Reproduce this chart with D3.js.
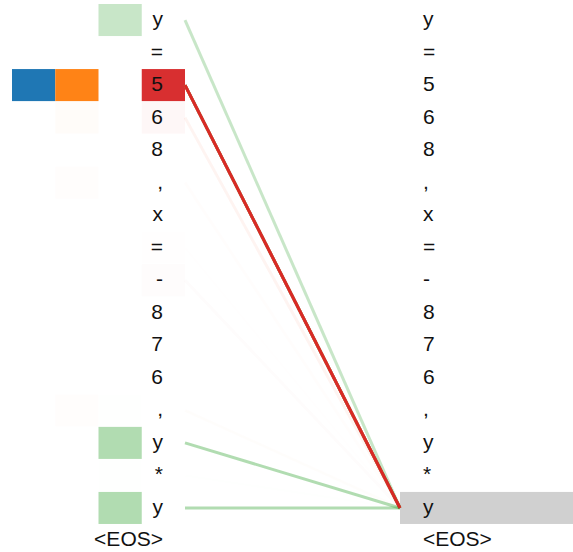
<!DOCTYPE html>
<html>
<head>
<meta charset="utf-8">
<script src="https://cdn.jsdelivr.net/npm/d3@7"></script>
<style>
  html, body { margin: 0; padding: 0; background: #fff; }
  svg { display: block; }
  text { font-family: "Liberation Sans", Arial, sans-serif; font-size: 21px; fill: #111; }
</style>
</head>
<body>
<svg id="chart" width="573" height="552"></svg>
<script>
// Tokens (same on both sides)
const tokens = ["y", "=", "5", "6", "8", ",", "x", "=", "-", "8", "7", "6", ",", "y", "*", "y", "<EOS>"];
// Selected (query) token index on the right
const selectedIndex = 15;
// Head names / colors
const heads = ["head 0", "head 1", "head 2", "head 3"];
// Attention from the selected token to each left token, per head
const attnHead0 = [0, 0, 1.0, 0, 0, 0, 0, 0, 0, 0, 0, 0, 0, 0, 0, 0, 0];
const attnHead1 = [0, 0, 0.97, 0.025, 0, 0.01, 0, 0, 0, 0, 0, 0, 0.01, 0, 0, 0, 0];
const attnHead2 = [0.26, 0, 0, 0, 0, 0, 0, 0, 0, 0, 0, 0, 0.003, 0.37, 0.003, 0.37, 0];
const attnHead3 = [0, 0, 0.96, 0.035, 0, 0, 0, 0.003, 0.015, 0, 0, 0, 0, 0, 0, 0, 0];
const attention = [attnHead0, attnHead1, attnHead2, attnHead3];

const svg = d3.select("#chart");
const color = d3.scaleOrdinal().domain(heads).range(d3.schemeCategory10);

const y = d3.scaleBand().domain(d3.range(tokens.length)).range([4, 4 + tokens.length * 32.5]).paddingInner(0.015);
const headX = d3.scaleBand().domain(heads).range([12, 185]);

const leftTextX = 163;
const rightBoxX = 400;
const rightTextX = 423;
const lineLeftX = 185;

// Head attention boxes on the left
heads.forEach((h, hi) => {
  svg.append("g").selectAll("rect")
    .data(attention[hi])
    .join("rect")
    .attr("x", headX(h))
    .attr("y", (d, i) => y(i))
    .attr("width", headX.bandwidth())
    .attr("height", y.bandwidth())
    .attr("fill", color(h))
    .attr("fill-opacity", d => d);
});

// Selected token highlight on the right
svg.append("rect")
  .attr("x", rightBoxX)
  .attr("y", y(selectedIndex))
  .attr("width", 573 - rightBoxX)
  .attr("height", y.bandwidth())
  .attr("fill", "#d0d0d0");

// Attention lines
const cy = i => y(i) + y.bandwidth() / 2;
heads.forEach((h, hi) => {
  svg.append("g").selectAll("line")
    .data(attention[hi])
    .join("line")
    .attr("x1", lineLeftX)
    .attr("y1", (d, i) => cy(i))
    .attr("x2", rightBoxX)
    .attr("y2", cy(selectedIndex))
    .attr("stroke", color(h))
    .attr("stroke-width", 3)
    .attr("stroke-opacity", d => d);
});

// Left tokens
svg.append("g").selectAll("text")
  .data(tokens)
  .join("text")
  .attr("x", leftTextX)
  .attr("y", (d, i) => y(i) + 22)
  .attr("text-anchor", "end")
  .text(d => d);

// Right tokens
svg.append("g").selectAll("text")
  .data(tokens)
  .join("text")
  .attr("x", rightTextX)
  .attr("y", (d, i) => y(i) + 22)
  .attr("text-anchor", "start")
  .text(d => d);
</script>
</body>
</html>
